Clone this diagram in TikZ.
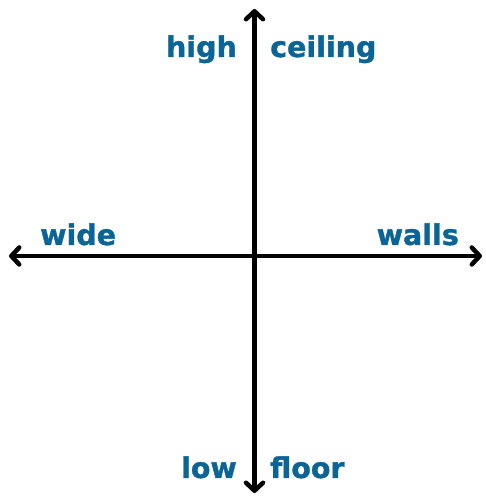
\documentclass[tikz,border=0pt]{standalone}
\usepackage{fontspec}
\setmainfont{DejaVu Sans}[BoldFeatures={FakeBold=1.2}]
\usepackage{tikz}
\usetikzlibrary{arrows.meta}
\definecolor{labelblue}{RGB}{10,100,150}
\tikzset{
    axisline/.style={line width=4.5pt, line cap=round,
        {Straight Barb[length=8pt, width=17pt, line width=4.5pt, round]}-{Straight Barb[length=8pt, width=17pt, line width=4.5pt, round]}},
    axislabel/.style={inner sep=0pt, text=labelblue, font=\fontsize{28.5}{34}\selectfont\bfseries}
}

\begin{document}
\begin{tikzpicture}[x=1pt, y=1pt]
    \useasboundingbox (0,0) rectangle (486,496);

    % Axis ends
    \coordinate (left) at (9,240);
    \coordinate (right) at (482,240);
    \coordinate (bottom) at (254.5,3);
    \coordinate (top) at (254.5,487);

    % Axes
    \draw[axisline] (left) -- (right);
    \draw[axisline] (bottom) -- (top);

    % Labels
    \node[axislabel, anchor=base east] (high) at (237,439) {high};
    \node[axislabel, anchor=base west] (ceiling) at (270,439) {ceiling};
    \node[axislabel, anchor=base west] (wide) at (40,251) {wide};
    \node[axislabel, anchor=base east] (walls) at (459,251) {walls};
    \node[axislabel, anchor=base east] (low) at (237,18) {low};
    \node[axislabel, anchor=base west] (floor) at (270,18) {floor};
\end{tikzpicture}
\end{document}
